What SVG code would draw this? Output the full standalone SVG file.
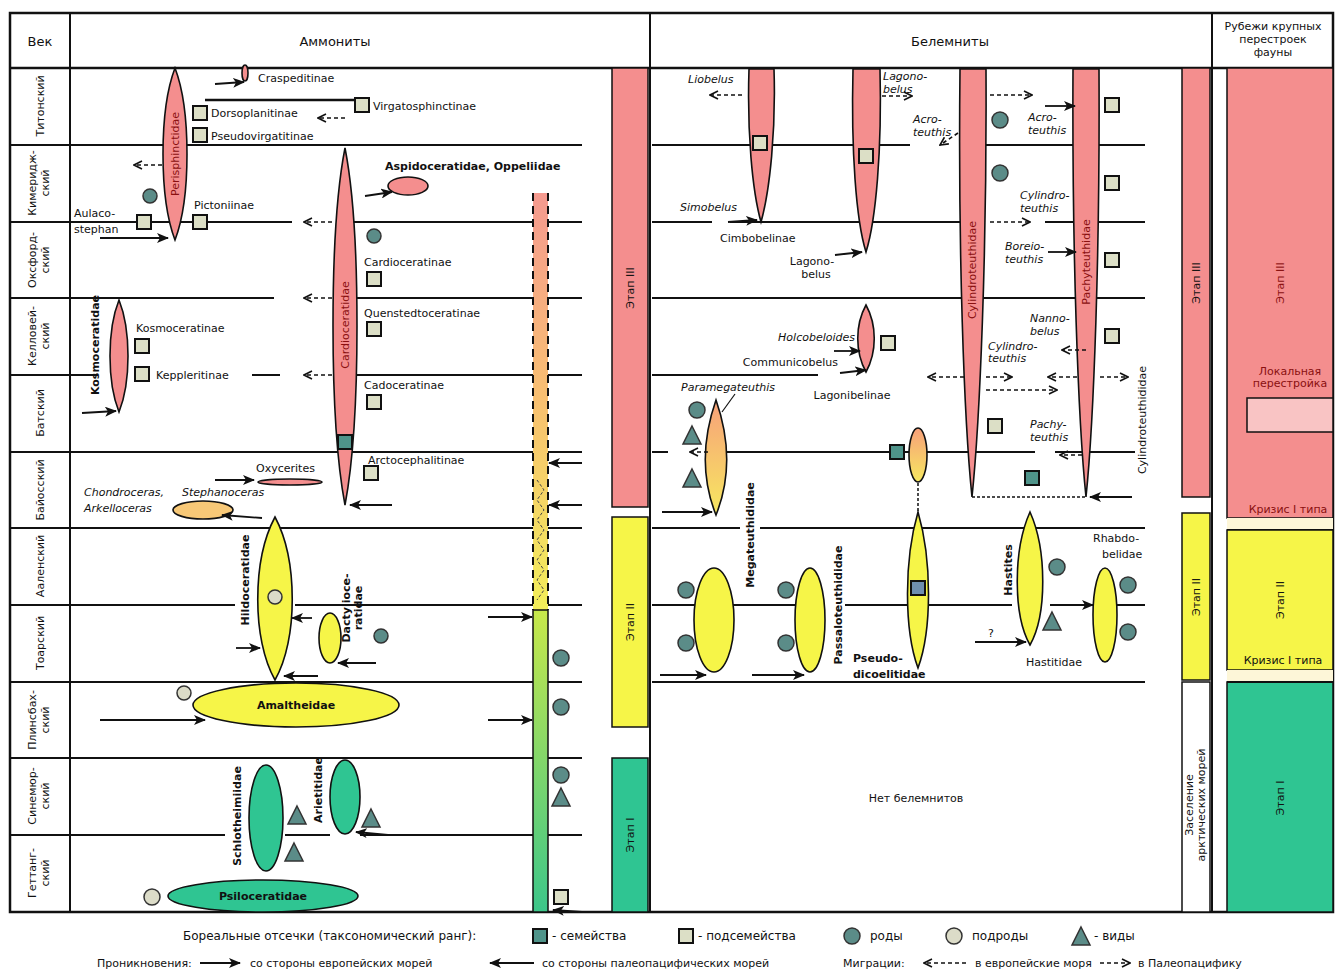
<svg xmlns="http://www.w3.org/2000/svg" width="1343" height="974" viewBox="0 0 1343 974">
<style>
.t{font-family:"DejaVu Sans","Liberation Sans",Arial,sans-serif;font-size:11px;fill:#111}
.ti{font-family:"DejaVu Sans","Liberation Sans",Arial,sans-serif;font-size:11px;fill:#111;font-style:italic}
.tb{font-family:"DejaVu Sans","Liberation Sans",Arial,sans-serif;font-size:11px;fill:#111;font-weight:bold}
.tr{font-family:"DejaVu Sans","Liberation Sans",Arial,sans-serif;font-size:11px;fill:#8a1010}
.h{font-family:"DejaVu Sans","Liberation Sans",Arial,sans-serif;font-size:13px;fill:#111}
.lg{font-family:"DejaVu Sans","Liberation Sans",Arial,sans-serif;font-size:12px;fill:#111}
.lg2{font-family:"DejaVu Sans","Liberation Sans",Arial,sans-serif;font-size:11px;fill:#111}
.ln{stroke:#111;stroke-width:2;fill:none}
.fr{stroke:#111;stroke-width:2.5;fill:none}
.pk{fill:#f48e8e;stroke:#111;stroke-width:1.6}
.yl{fill:#f6f548;stroke:#111;stroke-width:1.6}
.gr{fill:#2fc592;stroke:#111;stroke-width:1.6}
.sqL{fill:#dcdfc6;stroke:#111;stroke-width:2}
.sqD{fill:#4f948a;stroke:#111;stroke-width:2}
.cD{fill:#5b8c88;stroke:#333;stroke-width:1.5}
.cL{fill:#dcdcc8;stroke:#333;stroke-width:1.5}
.tri{fill:#5b8c88;stroke:#333;stroke-width:1.5}
.a{stroke:#111;stroke-width:1.8;fill:none;marker-end:url(#ah)}
.d{stroke:#111;stroke-width:1.6;fill:none;stroke-dasharray:4 3;marker-end:url(#dh)}
</style>
<defs>
<marker id="ah" viewBox="0 0 12 10" refX="11" refY="5" markerWidth="12" markerHeight="10" markerUnits="userSpaceOnUse" orient="auto">
<path d="M0,0 L12,5 L0,10 L3,5 Z" fill="#111"/>
</marker>
<marker id="dh" viewBox="0 0 10 10" refX="9" refY="5" markerWidth="10" markerHeight="10" markerUnits="userSpaceOnUse" orient="auto">
<path d="M1,1 L9,5 L1,9" fill="none" stroke="#111" stroke-width="1.6"/>
</marker>
<linearGradient id="og" x1="0" y1="0" x2="0" y2="1">
<stop offset="0" stop-color="#f7a07a"/><stop offset="1" stop-color="#f7e860"/>
</linearGradient>
<linearGradient id="bar1" x1="0" y1="0" x2="0" y2="1">
<stop offset="0" stop-color="#f59a90"/><stop offset="0.5" stop-color="#f8c070"/><stop offset="1" stop-color="#f2ee5a"/>
</linearGradient>
<linearGradient id="bar2" x1="0" y1="0" x2="0" y2="1">
<stop offset="0" stop-color="#c8e84a"/><stop offset="1" stop-color="#3cc68a"/>
</linearGradient>
</defs>
<rect width="1343" height="974" fill="#fff"/>

<g id="frame">
<rect x="10" y="13" width="1323" height="899" class="fr"/>
<line x1="10" y1="68" x2="1333" y2="68" class="fr"/>
<line x1="70" y1="13" x2="70" y2="912" class="ln"/>
<line x1="650" y1="13" x2="650" y2="912" class="ln"/>
<line x1="1212" y1="13" x2="1212" y2="912" class="ln"/>
<text x="40" y="46" class="h" text-anchor="middle">Век</text>
<text x="335" y="46" class="h" text-anchor="middle">Аммониты</text>
<text x="950" y="46" class="h" text-anchor="middle">Белемниты</text>
<text x="1273" y="30" class="t" text-anchor="middle" font-size="10">Рубежи крупных</text>
<text x="1273" y="43" class="t" text-anchor="middle" font-size="10">перестроек</text>
<text x="1273" y="56" class="t" text-anchor="middle" font-size="10">фауны</text>
</g>

<g id="stages">
<line x1="10" y1="145" x2="70" y2="145" class="ln"/>
<line x1="10" y1="222" x2="70" y2="222" class="ln"/>
<line x1="10" y1="298" x2="70" y2="298" class="ln"/>
<line x1="10" y1="375" x2="70" y2="375" class="ln"/>
<line x1="10" y1="452" x2="70" y2="452" class="ln"/>
<line x1="10" y1="528" x2="70" y2="528" class="ln"/>
<line x1="10" y1="605" x2="70" y2="605" class="ln"/>
<line x1="10" y1="682" x2="70" y2="682" class="ln"/>
<line x1="10" y1="758" x2="70" y2="758" class="ln"/>
<line x1="10" y1="835" x2="70" y2="835" class="ln"/>
<text class="t" text-anchor="middle" transform="translate(44,106) rotate(-90)">Титонский</text>
<text class="t" text-anchor="middle" transform="translate(36,183) rotate(-90)">Кимеридж-</text>
<text class="t" text-anchor="middle" transform="translate(49,183) rotate(-90)">ский</text>
<text class="t" text-anchor="middle" transform="translate(36,260) rotate(-90)">Оксфорд-</text>
<text class="t" text-anchor="middle" transform="translate(49,260) rotate(-90)">ский</text>
<text class="t" text-anchor="middle" transform="translate(36,336) rotate(-90)">Келловей-</text>
<text class="t" text-anchor="middle" transform="translate(49,336) rotate(-90)">ский</text>
<text class="t" text-anchor="middle" transform="translate(44,413) rotate(-90)">Батский</text>
<text class="t" text-anchor="middle" transform="translate(44,490) rotate(-90)">Байосский</text>
<text class="t" text-anchor="middle" transform="translate(44,566) rotate(-90)">Ааленский</text>
<text class="t" text-anchor="middle" transform="translate(44,643) rotate(-90)">Тоарский</text>
<text class="t" text-anchor="middle" transform="translate(36,720) rotate(-90)">Плинсбах-</text>
<text class="t" text-anchor="middle" transform="translate(49,720) rotate(-90)">ский</text>
<text class="t" text-anchor="middle" transform="translate(36,796) rotate(-90)">Синемюр-</text>
<text class="t" text-anchor="middle" transform="translate(49,796) rotate(-90)">ский</text>
<text class="t" text-anchor="middle" transform="translate(36,873) rotate(-90)">Геттанг-</text>
<text class="t" text-anchor="middle" transform="translate(49,873) rotate(-90)">ский</text>
</g>

<g id="gridlines">
<line x1="70" y1="145" x2="582" y2="145" class="ln"/>
<line x1="70" y1="222" x2="292" y2="222" class="ln"/>
<line x1="338" y1="222" x2="582" y2="222" class="ln"/>
<line x1="70" y1="298" x2="274" y2="298" class="ln"/>
<line x1="338" y1="298" x2="582" y2="298" class="ln"/>
<line x1="70" y1="375" x2="98" y2="375" class="ln"/>
<line x1="252" y1="375" x2="280" y2="375" class="ln"/>
<line x1="338" y1="375" x2="582" y2="375" class="ln"/>
<line x1="70" y1="452" x2="582" y2="452" class="ln"/>
<line x1="70" y1="528" x2="582" y2="528" class="ln"/>
<line x1="70" y1="605" x2="235" y2="605" class="ln"/>
<line x1="295" y1="605" x2="582" y2="605" class="ln"/>
<line x1="70" y1="682" x2="582" y2="682" class="ln"/>
<line x1="70" y1="758" x2="582" y2="758" class="ln"/>
<line x1="70" y1="835" x2="225" y2="835" class="ln"/>
<line x1="285" y1="835" x2="330" y2="835" class="ln"/>
<line x1="360" y1="835" x2="582" y2="835" class="ln"/>
<line x1="652" y1="145" x2="910" y2="145" class="ln"/>
<line x1="985" y1="145" x2="1145" y2="145" class="ln"/>
<line x1="652" y1="222" x2="712" y2="222" class="ln"/>
<line x1="730" y1="222" x2="960" y2="222" class="ln"/>
<line x1="1045" y1="222" x2="1145" y2="222" class="ln"/>
<line x1="652" y1="298" x2="1145" y2="298" class="ln"/>
<line x1="652" y1="375" x2="818" y2="375" class="ln"/>
<line x1="652" y1="452" x2="668" y2="452" class="ln"/>
<line x1="725" y1="452" x2="1035" y2="452" class="ln"/>
<line x1="1055" y1="452" x2="1135" y2="452" class="ln"/>
<line x1="652" y1="528" x2="740" y2="528" class="ln"/>
<line x1="760" y1="528" x2="1145" y2="528" class="ln"/>
<line x1="652" y1="605" x2="825" y2="605" class="ln"/>
<line x1="845" y1="605" x2="1012" y2="605" class="ln"/>
<line x1="1055" y1="605" x2="1145" y2="605" class="ln"/>
<line x1="652" y1="682" x2="1145" y2="682" class="ln"/>
</g>

<g id="bar">
<rect x="533" y="193" width="15" height="417" fill="url(#bar1)"/>
<line x1="533" y1="193" x2="533" y2="610" stroke="#111" stroke-width="2" stroke-dasharray="8 5"/>
<line x1="548" y1="193" x2="548" y2="610" stroke="#111" stroke-width="2" stroke-dasharray="8 5"/>
<polyline points="537,480 544,490 537,500 544,510 537,520 544,530 537,540 544,550 537,560 544,570 537,580 544,590 537,600" fill="none" stroke="#444" stroke-width="1" stroke-dasharray="3 2"/>
<rect x="533" y="610" width="15" height="302" fill="url(#bar2)" stroke="#111" stroke-width="1.5"/>
</g>

<g id="etap-mid">
<rect x="612" y="68" width="36" height="439" fill="#f48e8e" stroke="#111" stroke-width="1.5"/>
<rect x="612" y="517" width="36" height="210" fill="#f6f548" stroke="#111" stroke-width="1.5"/>
<rect x="612" y="758" width="36" height="154" fill="#2fc592" stroke="#111" stroke-width="1.5"/>
<text class="t" text-anchor="middle" transform="translate(634,288) rotate(-90)">Этап III</text>
<text class="t" text-anchor="middle" transform="translate(634,622) rotate(-90)">Этап II</text>
<text class="t" text-anchor="middle" transform="translate(634,835) rotate(-90)">Этап I</text>
</g>

<g id="etap-narrow">
<rect x="1182" y="68" width="28" height="429" fill="#f48e8e" stroke="#111" stroke-width="1.5"/>
<rect x="1182" y="513" width="28" height="167" fill="#f6f548" stroke="#111" stroke-width="1.5"/>
<rect x="1182" y="682" width="28" height="230" fill="#fff" stroke="#111" stroke-width="1.5"/>
<text class="t" text-anchor="middle" transform="translate(1200,283) rotate(-90)">Этап III</text>
<text class="t" text-anchor="middle" transform="translate(1200,597) rotate(-90)">Этап II</text>
<text class="t" text-anchor="middle" font-size="9.5" transform="translate(1193,805) rotate(-90)">Заселение</text>
<text class="t" text-anchor="middle" font-size="9.5" transform="translate(1205,805) rotate(-90)">арктических морей</text>
</g>

<g id="etap-right">
<rect x="1227" y="68" width="106" height="450" fill="#f48e8e" stroke="#111" stroke-width="1.5"/>
<rect x="1227" y="518" width="106" height="12" fill="#fdf6d8"/>
<line x1="1227" y1="530" x2="1333" y2="530" class="ln"/>
<rect x="1227" y="530" width="106" height="140" fill="#f6f548" stroke="#111" stroke-width="1.5"/>
<rect x="1227" y="670" width="106" height="12" fill="#fdf6d8"/>
<rect x="1227" y="682" width="106" height="230" fill="#2fc592" stroke="#111" stroke-width="1.5"/>
<line x1="1227" y1="682" x2="1333" y2="682" class="ln"/>
<text class="tr" text-anchor="middle" transform="translate(1284,283) rotate(-90)">Этап III</text>
<text class="tr" text-anchor="middle" font-size="9.5" x="1290" y="375">Локальная</text>
<text class="tr" text-anchor="middle" font-size="9.5" x="1290" y="387">перестройка</text>
<rect x="1247" y="398" width="86" height="34" fill="#f9c4c4" stroke="#111" stroke-width="1.5"/>
<text class="tr" text-anchor="middle" font-size="9.5" x="1288" y="513">Кризис I типа</text>
<text class="t" text-anchor="middle" transform="translate(1284,600) rotate(-90)">Этап II</text>
<text class="t" text-anchor="middle" font-size="9.5" x="1283" y="664">Кризис I типа</text>
<text class="t" text-anchor="middle" fill="#0a5a3a" transform="translate(1284,798) rotate(-90)">Этап I</text>
</g>

<g id="amm-perisphinctidae">
<path d="M175,68 C191,110 191,198 175,240 C159,198 159,110 175,68Z" class="pk"/>
<text class="tr" text-anchor="middle" transform="translate(179,154) rotate(-90)">Perisphinctidae</text>
<ellipse cx="245" cy="73" rx="3" ry="8" class="pk"/>
<text x="258" y="82" class="t">Craspeditinae</text>
<line x1="205" y1="100" x2="360" y2="100" stroke="#111" stroke-width="2.5"/>
<rect x="193" y="106" width="14" height="14" class="sqL"/>
<text x="211" y="117" class="t">Dorsoplanitinae</text>
<rect x="193" y="128" width="14" height="14" class="sqL"/>
<text x="211" y="140" class="t">Pseudovirgatitinae</text>
<rect x="355" y="98" width="14" height="14" class="sqL"/>
<text x="373" y="110" class="t">Virgatosphinctinae</text>
<circle cx="150" cy="196" r="7" class="cD"/>
<rect x="137" y="215" width="14" height="14" class="sqL"/>
<rect x="193" y="215" width="14" height="14" class="sqL"/>
<text x="194" y="209" class="t">Pictoniinae</text>
<text x="74" y="217" class="t">Aulaco-</text>
<text x="74" y="233" class="t">stephan</text>
</g>

<g id="amm-aspido">
<ellipse cx="408" cy="186" rx="20" ry="9" class="pk"/>
<text x="385" y="170" class="tb">Aspidoceratidae, Oppeliidae</text>
</g>

<g id="amm-cardioceratidae">
<path d="M345,148 C361,230 361,420 345,505 C329,420 329,230 345,148Z" class="pk"/>
<text class="tr" text-anchor="middle" transform="translate(349,325) rotate(-90)">Cardioceratidae</text>
<rect x="338" y="435" width="14" height="14" class="sqD"/>
<circle cx="374" cy="236" r="7" class="cD"/>
<text x="364" y="266" class="t">Cardioceratinae</text>
<rect x="367" y="272" width="14" height="14" class="sqL"/>
<text x="364" y="317" class="t">Quenstedtoceratinae</text>
<rect x="367" y="322" width="14" height="14" class="sqL"/>
<text x="364" y="389" class="t">Cadoceratinae</text>
<rect x="367" y="395" width="14" height="14" class="sqL"/>
<text x="368" y="464" class="t">Arctocephalitinae</text>
<rect x="364" y="466" width="14" height="14" class="sqL"/>
</g>

<g id="amm-kosmoceratidae">
<path d="M119,300 C131,330 131,382 119,412 C107,382 107,330 119,300Z" class="pk"/>
<text class="tb" text-anchor="middle" transform="translate(99,345) rotate(-90)">Kosmoceratidae</text>
<text x="136" y="332" class="t">Kosmoceratinae</text>
<rect x="135" y="339" width="14" height="14" class="sqL"/>
<rect x="135" y="367" width="14" height="14" class="sqL"/>
<text x="156" y="379" class="t">Keppleritinae</text>
</g>

<g id="amm-bajocian">
<ellipse cx="290" cy="482" rx="32" ry="3" class="pk"/>
<text x="256" y="472" class="t">Oxycerites</text>
<ellipse cx="203" cy="510" rx="30" ry="9" fill="#f7c877" stroke="#111" stroke-width="1.6"/>
<text x="84" y="496" class="ti">Chondroceras,</text>
<text x="182" y="496" class="ti">Stephanoceras</text>
<text x="84" y="512" class="ti">Arkelloceras</text>
</g>

<g id="amm-hildoceratidae">
<path d="M275,517 C298,560 298,640 275,680 C252,640 252,560 275,517Z" class="yl"/>
<circle cx="275" cy="597" r="7" class="cL"/>
<text class="tb" text-anchor="middle" transform="translate(249,580) rotate(-90)">Hildoceratidae</text>
<ellipse cx="330" cy="638" rx="11" ry="25" class="yl"/>
<text class="tb" text-anchor="middle" transform="translate(350,608) rotate(-90)">Dactylioce-</text>
<text class="tb" text-anchor="middle" transform="translate(362,608) rotate(-90)">ratidae</text>
<circle cx="381" cy="636" r="7" class="cD"/>
</g>

<g id="amm-amaltheidae">
<ellipse cx="296" cy="705" rx="103" ry="22" class="yl"/>
<text x="296" y="709" class="tb" text-anchor="middle">Amaltheidae</text>
<circle cx="184" cy="693" r="7" class="cL"/>
</g>

<g id="amm-lower">
<ellipse cx="266" cy="818" rx="17" ry="53" class="gr"/>
<text class="tb" text-anchor="middle" transform="translate(241,816) rotate(-90)">Schlotheimiidae</text>
<ellipse cx="345" cy="797" rx="15" ry="37" class="gr"/>
<text class="tb" text-anchor="middle" transform="translate(322,790) rotate(-90)">Arietitidae</text>
<path d="M297,806 L306,824 L288,824Z" class="tri"/>
<path d="M294,843 L303,861 L285,861Z" class="tri"/>
<path d="M371,809 L380,827 L362,827Z" class="tri"/>
<ellipse cx="263" cy="896" rx="95" ry="16" class="gr"/>
<text x="263" y="900" class="tb" text-anchor="middle">Psiloceratidae</text>
<circle cx="152" cy="897" r="8" class="cL"/>
</g>

<g id="amm-barmarks">
<circle cx="561" cy="658" r="8" class="cD"/>
<circle cx="561" cy="707" r="8" class="cD"/>
<circle cx="561" cy="775" r="8" class="cD"/>
<path d="M561,788 L570,806 L552,806Z" class="tri"/>
<rect x="554" y="890" width="14" height="14" class="sqL"/>
</g>

<g id="bel-upper">
<path d="M749,69 H774 C776,130 770,190 761,222 C752,190 747,130 749,69Z" class="pk"/>
<rect x="753" y="136" width="14" height="14" class="sqL"/>
<text x="688" y="83" class="ti">Liobelus</text>
<text x="680" y="211" class="ti">Simobelus</text>
<text x="720" y="242" class="t">Cimbobelinae</text>
<path d="M853,69 H880 C882,150 876,220 866,252 C856,220 851,150 853,69Z" class="pk"/>
<rect x="859" y="149" width="14" height="14" class="sqL"/>
<text x="883" y="80" class="ti">Lagono-</text>
<text x="883" y="93" class="ti">belus</text>
<text x="812" y="265" class="t" text-anchor="middle">Lagono-</text>
<text x="816" y="278" class="t" text-anchor="middle">belus</text>
<text x="913" y="123" class="ti">Acro-</text>
<text x="913" y="136" class="ti">teuthis</text>
</g>

<g id="bel-cylindroteuthidae">
<path d="M960,69 H986 C987,250 980,420 972,497 C964,420 958,250 960,69Z" class="pk"/>
<text class="tr" text-anchor="middle" transform="translate(976,270) rotate(-90)">Cylindroteuthidae</text>
<circle cx="1000" cy="120" r="8" class="cD"/>
<circle cx="1000" cy="173" r="8" class="cD"/>
<text x="1020" y="199" class="ti">Cylindro-</text>
<text x="1020" y="212" class="ti">teuthis</text>
<text x="1005" y="250" class="ti">Boreio-</text>
<text x="1005" y="263" class="ti">teuthis</text>
<rect x="988" y="419" width="14" height="14" class="sqL"/>
<rect x="1025" y="471" width="14" height="14" class="sqD"/>
<line x1="972" y1="497" x2="1086" y2="497" stroke="#111" stroke-width="1.5" stroke-dasharray="3 2"/>
</g>

<g id="bel-pachyteuthidae">
<path d="M1073,69 H1099 C1100,250 1094,420 1086,497 C1078,420 1072,250 1073,69Z" class="pk"/>
<text class="tr" text-anchor="middle" transform="translate(1090,262) rotate(-90)">Pachyteuthidae</text>
<text x="1028" y="121" class="ti">Acro-</text>
<text x="1028" y="134" class="ti">teuthis</text>
<rect x="1105" y="98" width="14" height="14" class="sqL"/>
<rect x="1105" y="176" width="14" height="14" class="sqL"/>
<rect x="1105" y="253" width="14" height="14" class="sqL"/>
<rect x="1105" y="329" width="14" height="14" class="sqL"/>
<text x="1030" y="322" class="ti">Nanno-</text>
<text x="1030" y="335" class="ti">belus</text>
<text x="988" y="350" class="ti" font-size="10">Cylindro-</text>
<text x="988" y="362" class="ti" font-size="10">teuthis</text>
<text x="1030" y="428" class="ti">Pachy-</text>
<text x="1030" y="441" class="ti">teuthis</text>
<text class="t" text-anchor="middle" transform="translate(1146,420) rotate(-90)">Cylindroteuthididae</text>
</g>

<g id="bel-middle">
<path d="M866,305 C877,325 877,352 866,372 C855,352 855,325 866,305Z" class="pk"/>
<rect x="881" y="336" width="14" height="14" class="sqL"/>
<text x="855" y="341" class="ti" text-anchor="end">Holcobeloides</text>
<text x="838" y="366" class="t" text-anchor="end">Communicobelus</text>
<text x="852" y="399" class="t" text-anchor="middle">Lagonibelinae</text>
<path d="M716,400 C730,440 730,480 716,515 C702,480 702,440 716,400Z" fill="url(#og)" stroke="#111" stroke-width="1.6"/>
<text x="728" y="391" class="ti" text-anchor="middle">Paramegateuthis</text>
<line x1="735" y1="394" x2="722" y2="412" stroke="#111" stroke-width="1.2"/>
<circle cx="697" cy="410" r="8" class="cD"/>
<path d="M692,426 L701,444 L683,444Z" class="tri"/>
<path d="M692,469 L701,487 L683,487Z" class="tri"/>
<ellipse cx="918" cy="455" rx="9" ry="27" fill="url(#og)" stroke="#111" stroke-width="1.6"/>
<rect x="890" y="445" width="14" height="14" class="sqD"/>
<line x1="918" y1="483" x2="918" y2="512" stroke="#111" stroke-width="1.5" stroke-dasharray="3 2"/>
<text class="tb" text-anchor="middle" transform="translate(754,535) rotate(-90)">Megateuthididae</text>
</g>

<g id="bel-lower">
<ellipse cx="714" cy="620" rx="20" ry="52" class="yl"/>
<circle cx="686" cy="590" r="8" class="cD"/>
<circle cx="686" cy="643" r="8" class="cD"/>
<ellipse cx="810" cy="620" rx="15" ry="52" class="yl"/>
<circle cx="786" cy="590" r="8" class="cD"/>
<circle cx="786" cy="643" r="8" class="cD"/>
<text class="tb" text-anchor="middle" transform="translate(842,605) rotate(-90)">Passaloteuthididae</text>
<path d="M918,512 C932,560 932,630 918,668 C904,630 904,560 918,512Z" class="yl"/>
<rect x="911" y="581" width="14" height="14" fill="#6f8fb0" stroke="#111" stroke-width="2"/>
<text x="853" y="662" class="tb">Pseudo-</text>
<text x="853" y="678" class="tb">dicoelitidae</text>
<path d="M1030,512 C1047,550 1047,615 1030,645 C1013,615 1013,550 1030,512Z" class="yl"/>
<text class="tb" text-anchor="middle" transform="translate(1012,570) rotate(-90)">Hastites</text>
<circle cx="1057" cy="567" r="8" class="cD"/>
<path d="M1052,612 L1061,630 L1043,630Z" class="tri"/>
<text x="1026" y="666" class="t">Hastitidae</text>
<ellipse cx="1105" cy="615" rx="12" ry="47" class="yl"/>
<circle cx="1128" cy="585" r="8" class="cD"/>
<circle cx="1128" cy="632" r="8" class="cD"/>
<text x="1093" y="542" class="t">Rhabdo-</text>
<text x="1102" y="558" class="t">belidae</text>
<text x="988" y="637" class="t">?</text>
<text x="916" y="802" class="t" text-anchor="middle">Нет белемнитов</text>
</g>

<g id="connectors">
<path d="M215,84 L244,82" class="a"/>
<path d="M345,118 L318,118" class="d"/>
<path d="M162,165 L134,165" class="d"/>
<path d="M100,238 L168,238" class="a"/>
<path d="M365,196 L392,192" class="a"/>
<path d="M332,222 L304,222" class="d"/>
<path d="M332,298 L304,298" class="d"/>
<path d="M332,375 L304,375" class="d"/>
<path d="M392,505 L350,505" class="a"/>
<path d="M82,413 L116,411" class="a"/>
<path d="M215,480 L254,480" class="a"/>
<path d="M262,518 L222,515" class="a"/>
<path d="M236,648 L260,648" class="a"/>
<path d="M312,618 L292,618" class="a"/>
<path d="M318,676 L284,676" class="a"/>
<path d="M376,663 L338,663" class="a"/>
<path d="M100,720 L205,720" class="a"/>
<path d="M388,835 L356,832" class="a"/>
<path d="M582,463 L549,463" class="a"/>
<path d="M582,505 L549,505" class="a"/>
<path d="M488,617 L532,617" class="a"/>
<path d="M488,720 L532,720" class="a"/>
<path d="M582,912 L553,910" class="a"/>
<path d="M742,95 L710,95" class="d"/>
<path d="M728,222 L757,220" class="a"/>
<path d="M882,96 L912,96" class="d"/>
<path d="M835,255 L862,252" class="a"/>
<path d="M958,133 L940,145" class="d"/>
<path d="M990,95 L1032,95" class="d"/>
<path d="M1045,106 L1075,106" class="a"/>
<path d="M990,222 L1030,222" class="d"/>
<path d="M1048,252 L1076,252" class="a"/>
<path d="M834,351 L860,351" class="a"/>
<path d="M840,373 L866,370" class="a"/>
<path d="M1086,350 L1062,350" class="d"/>
<path d="M964,377 L928,377" class="d"/>
<path d="M986,377 L1012,377" class="d"/>
<path d="M1077,377 L1048,377" class="d"/>
<path d="M1100,377 L1128,377" class="d"/>
<path d="M986,390 L1057,390" class="d"/>
<path d="M1082,455 L1060,455" class="d"/>
<path d="M1132,497 L1090,497" class="a"/>
<path d="M662,512 L712,512" class="a"/>
<path d="M708,452 L690,452" class="d"/>
<path d="M660,675 L706,675" class="a"/>
<path d="M752,675 L804,675" class="a"/>
<path d="M975,642 L1026,642" class="a"/>
<path d="M1050,605 L1093,605" class="a"/>
</g>

<g id="legend">
<text x="183" y="940" class="lg">Бореальные отсечки (таксономический ранг):</text>
<rect x="533" y="929" width="14" height="14" class="sqD"/>
<text x="552" y="940" class="lg">- семейства</text>
<rect x="679" y="929" width="14" height="14" class="sqL"/>
<text x="698" y="940" class="lg">- подсемейства</text>
<circle cx="852" cy="936" r="8" class="cD"/>
<text x="870" y="940" class="lg">роды</text>
<circle cx="954" cy="936" r="8" class="cL"/>
<text x="972" y="940" class="lg">подроды</text>
<path d="M1081,927 L1090,945 L1072,945Z" class="tri"/>
<text x="1094" y="940" class="lg">- виды</text>
<text x="97" y="967" class="lg2">Проникновения:</text>
<path d="M200,963 L240,963" class="a"/>
<text x="250" y="967" class="lg2">со стороны европейских морей</text>
<path d="M534,963 L490,963" class="a"/>
<text x="542" y="967" class="lg2">со стороны палеопацифических морей</text>
<text x="843" y="967" class="lg2">Миграции:</text>
<path d="M966,963 L924,963" class="d"/>
<text x="975" y="967" class="lg2">в европейские моря</text>
<path d="M1100,963 L1130,963" class="d"/>
<text x="1138" y="967" class="lg2">в Палеопацифику</text>
</g>
</svg>
